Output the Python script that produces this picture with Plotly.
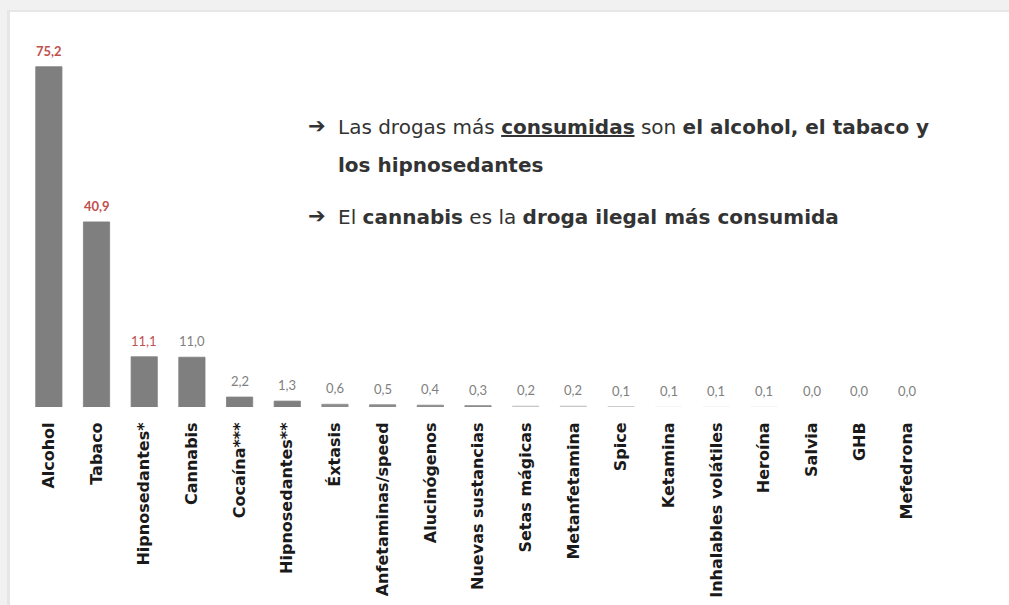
import plotly.graph_objects as go

categories = ["Alcohol", "Tabaco", "Hipnosedantes*", "Cannabis", "Cocaína***",
              "Hipnosedantes**", "Éxtasis", "Anfetaminas/speed", "Alucinógenos",
              "Nuevas sustancias", "Setas mágicas", "Metanfetamina", "Spice",
              "Ketamina", "Inhalables volátiles", "Heroína", "Salvia", "GHB", "Mefedrona"]
values = [75.2, 40.9, 11.1, 11.0, 2.2, 1.3, 0.6, 0.5, 0.4, 0.3, 0.2, 0.2, 0.1,
          0.1, 0.1, 0.1, 0.0, 0.0, 0.0]
bar_colors = ["#7f7f7f"] * 6 + ["#8c8c8c"] * 4 + ["#c6c6c6"] * 3 + ["#f4f4f4"] * 3 + ["rgba(0,0,0,0)"] * 3
label_colors = ["#c0504d"] * 3 + ["#808080"] * 16
label_bold = [True, True, False] + [False] * 16

labels = [f"{v:.1f}".replace(".", ",") for v in values]

FONT = "Lato"
TICKFONT = "DejaVu Sans"
TEXTFONT = "DejaVu Sans"

fig = go.Figure(go.Bar(
    x=categories, y=values,
    marker=dict(color=bar_colors, line=dict(color=bar_colors, width=0.8)),
    width=0.55,
))

L, R, T, B = 25, 78, 45, 198
W, H = 1009, 605
pw = W - L - R
ph = H - T - B

def px(x):
    return (x - L) / pw

def py(y):
    return (H - B - y) / ph

annotations = []
for c, v, lab, col, bold in zip(categories, values, labels, label_colors, label_bold):
    annotations.append(dict(
        x=c, y=v, xref="x", yref="y", text=(f"<b>{lab}</b>" if bold else lab),
        showarrow=False, yanchor="bottom", yshift=6,
        font=dict(family=FONT, size=13, color=col),
    ))

ann_font = dict(family=TEXTFONT, size=20, color="#333333")
arrow_font = dict(family="DejaVu Sans", size=21, color="#333333")
text_anns = [
    dict(x=px(306), y=py(126), text="<b>➔</b>", font=arrow_font),
    dict(x=px(336), y=py(127), text="Las drogas más <b><u>consumidas</u></b> son <b>el alcohol, el tabaco y</b>", font=ann_font),
    dict(x=px(336), y=py(165), text="<b>los hipnosedantes</b>", font=ann_font),
    dict(x=px(306), y=py(216), text="<b>➔</b>", font=arrow_font),
    dict(x=px(336), y=py(217), text="El <b>cannabis</b> es la <b>droga ilegal más consumida</b>", font=ann_font),
]
for a in text_anns:
    a.update(xref="paper", yref="paper", xanchor="left", yanchor="middle", showarrow=False)
annotations += text_anns

shapes = [
    dict(type="rect", xref="paper", yref="paper", x0=px(0), x1=px(W), y0=py(0), y1=py(H),
         fillcolor="#f1f1f1", line=dict(width=0), layer="below"),
    dict(type="rect", xref="paper", yref="paper", x0=px(7), x1=px(W), y0=py(10), y1=py(H),
         fillcolor="#e6e6e6", line=dict(width=0), layer="below"),
    dict(type="rect", xref="paper", yref="paper", x0=px(10), x1=px(W), y0=py(12), y1=py(H),
         fillcolor="#ffffff", line=dict(width=0), layer="below"),
]

fig.update_layout(
    width=W, height=H,
    margin=dict(l=L, r=R, t=T, b=B, autoexpand=False),
    paper_bgcolor="#ffffff", plot_bgcolor="rgba(0,0,0,0)",
    showlegend=False,
    annotations=annotations,
    shapes=shapes,
    xaxis=dict(
        tickangle=-90, showgrid=False, zeroline=False, showline=False,
        tickfont=dict(family=TICKFONT, size=16, color="#1a1a1a", weight="bold"),
        ticks="outside", ticklen=8, tickcolor="rgba(0,0,0,0)",
        range=[-0.5, 18.5], automargin=False,
    ),
    yaxis=dict(visible=False, range=[0, 80], automargin=False),
)

fig.write_html("out.html")
